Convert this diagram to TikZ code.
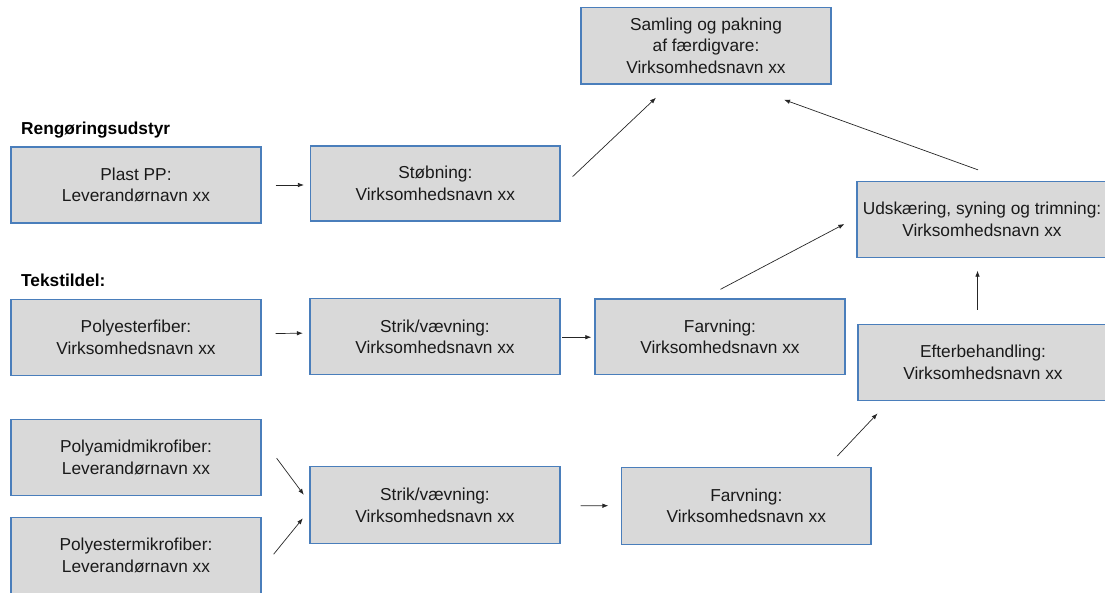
\documentclass[tikz,border=0pt]{standalone}
\usepackage{fontspec}
\setmainfont{Liberation Sans}
\usetikzlibrary{calc,arrows.meta}
\definecolor{boxfill}{HTML}{D9D9D9}
\definecolor{boxline}{HTML}{4A7EBB}
\definecolor{txt}{HTML}{1A1A1A}
\begin{document}
\begin{tikzpicture}[x=1pt,y=-1pt,
  box/.style={draw=boxline,line width=1.3pt,fill=boxfill,rectangle,
    minimum width=250pt,minimum height=76pt,inner sep=0pt,align=center,
    font=\fontsize{17.3}{21.7}\selectfont,text=txt},
  arr/.style={-{Latex[length=6pt,width=4.5pt]},line width=0.7pt,draw=black!85},
  lbl/.style={font=\fontsize{17.3}{21.7}\selectfont\bfseries,anchor=base west,inner sep=0pt,text=black}]
\useasboundingbox (0,0) rectangle (1105,592);

% labels
\node[lbl] (lrenk) at (21,134.5) {Rengøringsudstyr};
\node[lbl] (ltekst) at (21,286) {Tekstildel:};

% boxes
\node[box,minimum height=76.5pt] (samling) at (706,45.8) {Samling og pakning\\af færdigvare:\\Virksomhedsnavn xx};
\node[box] (plast) at (136,185) {Plast PP:\\Leverandørnavn xx};
\node[box,minimum width=249.5pt,minimum height=75pt] (stob) at (435.3,183.5) {Støbning:\\Virksomhedsnavn xx};
\node[box] (udsk) at (982,219.5) {Udskæring, syning og trimning:\\Virksomhedsnavn xx};
\node[box,minimum height=76.5pt] (polyfib) at (136,337.5) {Polyesterfiber:\\Virksomhedsnavn xx};
\node[box] (strik1) at (435,336.7) {Strik/vævning:\\Virksomhedsnavn xx};
\node[box,minimum height=75.5pt] (farv1) at (720,336.7) {Farvning:\\Virksomhedsnavn xx};
\node[box] (efter) at (983,362.3) {Efterbehandling:\\Virksomhedsnavn xx};
\node[box] (polyamid) at (136,457.7) {Polyamidmikrofiber:\\Leverandørnavn xx};
\node[box] (polymikro) at (136,555.7) {Polyestermikrofiber:\\Leverandørnavn xx};
\node[box,minimum height=77pt] (strik2) at (435,505.3) {Strik/vævning:\\Virksomhedsnavn xx};
\node[box,minimum width=249.5pt,minimum height=77pt] (farv2) at (746.3,505.7) {Farvning:\\Virksomhedsnavn xx};

% connectors
\draw[arr] ($(plast.east)+(14,0)$) -- ($(stob.west)+(-6,1.5)$);
\draw[arr] ($(stob.east)+(12,-7)$) -- ($(samling.south)+(-50,13)$);
\draw[arr] ($(udsk.north)+(-4,-11)$) -- ($(samling.south)+(78,15)$);
\draw[arr] ($(polyfib.east)+(14,-4)$) -- ($(strik1.west)+(-6.5,-3.5)$);
\draw[arr] ($(strik1.east)+(1.5,0.5)$) -- ($(farv1.west)+(-3,0.5)$);
\draw[arr] ($(farv1.north)+(0.5,-9)$) -- ($(udsk.west)+(-12,4.5)$);
\draw[arr] ($(efter.north)+(-5.5,-14)$) -- ($(udsk.south)+(-4.5,12.5)$);
\draw[arr] ($(polyamid.east)+(15,0.5)$) -- ($(strik2.west)+(-5.5,-10.5)$);
\draw[arr] ($(polymikro.east)+(12,-1.5)$) -- ($(strik2.west)+(-6.5,13)$);
\draw[arr] ($(strik2.east)+(20,0.5)$) -- ($(farv2.west)+(-12.5,0)$);
\draw[arr] ($(farv2.north)+(91,-10.5)$) -- ($(efter.south)+(-105.5,12.5)$);
\end{tikzpicture}
\end{document}
